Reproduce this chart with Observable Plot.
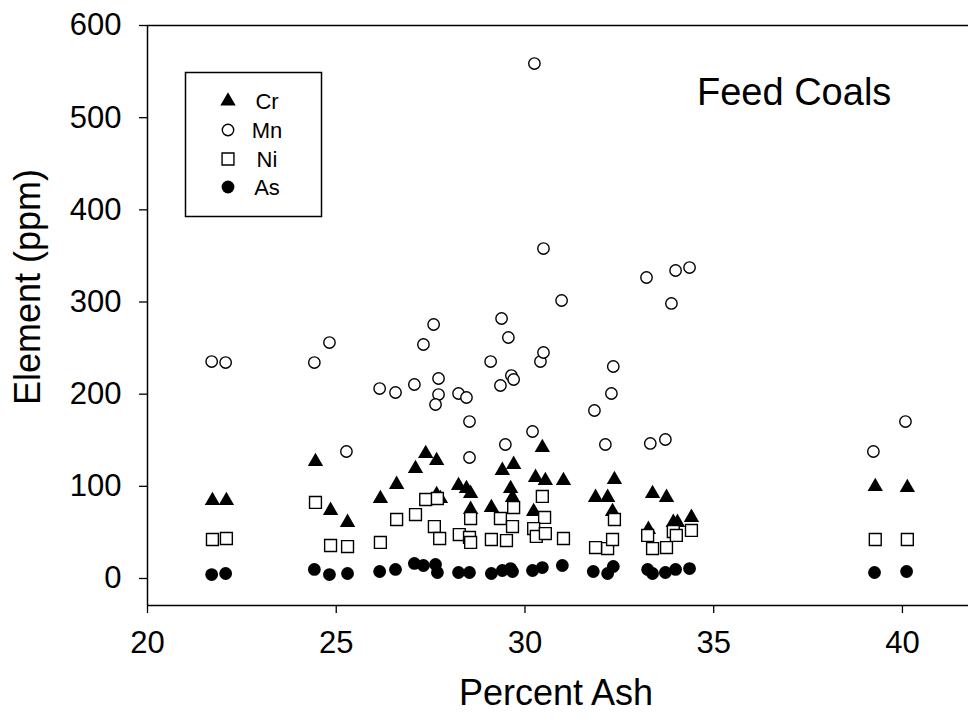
<!DOCTYPE html>
<html>
<head>
<meta charset="utf-8">
<script src="https://cdn.jsdelivr.net/npm/d3@7"></script>
<script src="https://cdn.jsdelivr.net/npm/@observablehq/plot@0.6"></script>
<style>
  html, body { margin: 0; padding: 0; background: #fff; }
  #chart { width: 968px; height: 725px; }
</style>
</head>
<body>
<div id="chart"></div>
<script>
// ---- data ----
const crX = [21.72,22.09,24.45,24.85,25.30,26.17,26.60,27.10,27.37,27.66,27.66,27.76,28.24,28.45,28.56,28.56,29.11,29.40,29.70,29.62,29.67,30.23,30.46,30.28,30.54,31.02,31.87,32.19,32.37,32.32,33.27,33.38,33.75,33.93,34.04,34.41,39.28,40.13];
const crY = [84.6,84.6,126.9,73.8,60.8,86.8,102.0,119.3,135.6,128.0,91.1,86.8,100.9,97.6,92.2,74.9,77.0,117.2,123.7,97.6,87.9,72.7,142.1,109.6,106.3,106.3,87.9,87.9,107.4,72.7,53.2,92.2,87.9,60.8,60.8,66.2,99.8,98.7];

const mnX = [21.70,22.07,24.42,24.82,25.27,26.15,26.57,27.07,27.31,27.58,27.71,27.71,27.63,28.24,28.45,28.53,28.53,29.09,29.38,29.56,29.64,29.70,29.35,29.48,30.20,30.25,30.41,30.49,30.49,30.97,31.84,32.13,32.29,32.34,33.22,33.32,33.72,33.88,33.99,34.36,39.23,40.08];
const mnY = [235.4,234.3,234.3,256.0,137.8,206.1,201.8,210.5,253.9,275.6,217.0,199.6,188.8,200.7,196.4,170.3,131.3,235.4,282.1,261.5,220.2,215.9,209.4,145.4,159.5,558.7,235.4,245.2,358.0,301.6,182.3,145.4,200.7,230.0,326.6,146.5,150.8,298.4,334.2,337.4,137.8,170.3];

const niX = [21.72,22.09,24.45,24.85,25.30,26.17,26.60,27.10,27.37,27.68,27.60,27.74,28.26,28.53,28.56,28.56,29.11,29.35,29.67,29.51,29.70,30.46,30.52,30.23,30.30,30.54,31.02,31.87,32.19,32.32,32.37,33.25,33.38,33.75,33.93,34.01,34.41,39.28,40.13];
const niY = [42.3,43.4,82.5,35.8,34.7,39.1,64.0,69.4,85.7,86.8,56.4,43.4,47.7,44.5,39.1,65.1,42.3,65.1,56.4,41.2,77.0,89.0,66.2,54.2,45.6,48.8,43.4,33.6,32.5,42.3,64.0,46.7,32.5,33.6,51.0,46.7,52.1,42.3,42.3];

const asX = [21.70,22.07,24.42,24.82,25.30,26.15,26.57,27.07,27.31,27.63,27.68,28.24,28.53,29.11,29.40,29.62,29.67,30.20,30.46,30.99,31.81,32.19,32.34,33.25,33.38,33.72,33.99,34.36,39.26,40.11];
const asY = [4.3,5.4,9.8,4.3,5.4,7.6,9.8,16.3,14.1,15.2,6.5,6.5,6.5,5.4,8.7,10.8,7.6,8.7,11.9,14.1,7.6,5.4,13.0,9.8,5.4,6.5,9.8,10.8,6.5,7.6];

const xTicks = [20, 25, 30, 35, 40];
const yTicks = [0, 100, 200, 300, 400, 500, 600];
const legendLabels = ["Cr", "Mn", "Ni", "As"];

// ---- build tables ----
const zip = (xs, ys) => xs.map((x, i) => ({x, y: ys[i]}));
const cr = zip(crX, crY), mn = zip(mnX, mnY), ni = zip(niX, niY), as = zip(asX, asY);

const xMin = 20, xMax = 41.75, yMin = -29.3, yMax = 600;
const FONT = "'Liberation Sans', Arial, Helvetica, sans-serif";

const sym = {
  Cr: {symbol: "triangle", r: 5.7, fill: "black", stroke: "none", strokeWidth: 0},
  Mn: {symbol: "circle", r: 5.7, fill: "white", stroke: "black", strokeWidth: 1.4},
  Ni: {symbol: "square", r: 6.7, fill: "white", stroke: "black", strokeWidth: 1.4},
  As: {symbol: "circle", r: 6.4, fill: "black", stroke: "none", strokeWidth: 0}
};

const chart = Plot.plot({
  width: 968,
  height: 725,
  marginLeft: 147,
  marginRight: 0,
  marginTop: 25,
  marginBottom: 120,
  style: {fontFamily: FONT, color: "black", background: "white", overflow: "visible"},
  x: {domain: [xMin, xMax]},
  y: {domain: [yMin, yMax]},
  marks: [
    Plot.axisX({ticks: xTicks, tickSize: 8, tickPadding: 17, fontSize: 31, label: null, tickFormat: d => String(d), strokeWidth: 1.3}),
    Plot.axisY({ticks: yTicks, tickSize: 8, tickPadding: 18, fontSize: 31, label: null, tickFormat: d => String(d), strokeWidth: 1.3}),
    Plot.ruleY([yMax], {stroke: "black", strokeWidth: 1.5}),
    Plot.ruleY([yMin], {stroke: "black", strokeWidth: 1.5}),
    Plot.ruleX([xMin], {stroke: "black", strokeWidth: 1.5}),
    Plot.dot(cr, {x: "x", y: "y", ...sym.Cr}),
    Plot.dot(ni, {x: "x", y: "y", ...sym.Ni}),
    Plot.dot(mn, {x: "x", y: "y", ...sym.Mn}),
    Plot.dot(as, {x: "x", y: "y", ...sym.As})
  ]
});

document.getElementById("chart").appendChild(chart);

// ---- titles and legend (layout) ----
const svg = d3.select(chart);

svg.append("text")
  .attr("transform", "translate(40,287) rotate(-90)")
  .attr("text-anchor", "middle")
  .attr("font-family", FONT).attr("font-size", 36).attr("fill", "black")
  .text("Element (ppm)");

svg.append("text")
  .attr("x", 556).attr("y", 705)
  .attr("text-anchor", "middle")
  .attr("font-family", FONT).attr("font-size", 36).attr("fill", "black")
  .text("Percent Ash");

svg.append("text")
  .attr("x", 697).attr("y", 105)
  .attr("text-anchor", "start")
  .attr("font-family", FONT).attr("font-size", 38).attr("fill", "black")
  .text("Feed Coals");

const lg = svg.append("g");
lg.append("rect")
  .attr("x", 185.5).attr("y", 72.5).attr("width", 136).attr("height", 144)
  .attr("fill", "white").attr("stroke", "black").attr("stroke-width", 1.5);

const symType = {triangle: d3.symbolTriangle, circle: d3.symbolCircle, square: d3.symbolSquare};
const rowsY = [101, 130, 159, 187];
legendLabels.forEach((name, i) => {
  const s = sym[name];
  lg.append("path")
    .attr("transform", `translate(228,${rowsY[i]})`)
    .attr("d", d3.symbol(symType[s.symbol], Math.PI * s.r * s.r)())
    .attr("fill", s.fill).attr("stroke", s.stroke).attr("stroke-width", s.strokeWidth);
  lg.append("text")
    .attr("x", 267).attr("y", rowsY[i]).attr("dy", "0.36em")
    .attr("font-family", FONT).attr("font-size", 22).attr("fill", "black")
    .text(name);
});
</script>
</body>
</html>
